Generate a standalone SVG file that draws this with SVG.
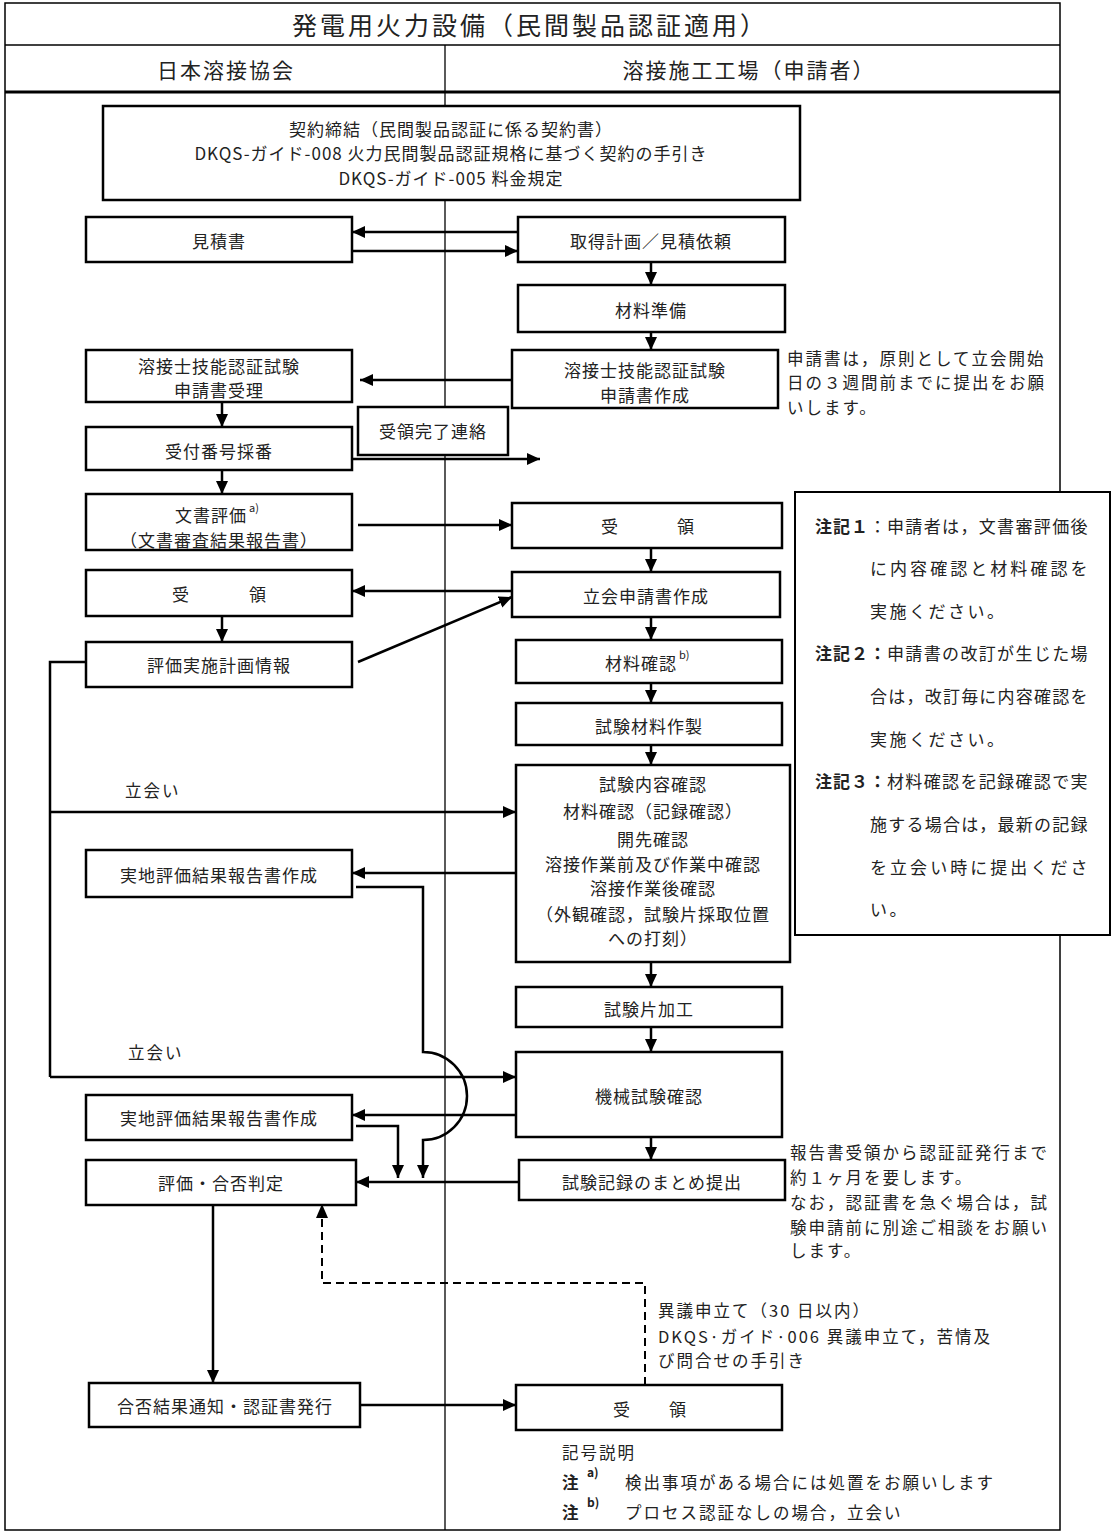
<svg xmlns="http://www.w3.org/2000/svg" width="1114" height="1536" viewBox="0 0 1114 1536">
<defs>
<marker id="ah" markerUnits="userSpaceOnUse" markerWidth="13" markerHeight="12" refX="13" refY="6" orient="auto">
<path d="M0,0 L13,6 L0,12 z" fill="#000"/>
</marker>
<style>
text{font-family:"Noto Sans CJK JP","Noto Sans",sans-serif;fill:#222;}
.bt{font-size:17px;letter-spacing:1px;text-anchor:middle;dominant-baseline:central;}
.nt{font-size:16.5px;letter-spacing:2px;dominant-baseline:central;}
.ns{font-size:17px;letter-spacing:2.5px;dominant-baseline:central;}
.sup{font-size:11px;}
.box{fill:#fff;stroke:#000;stroke-width:2.5;}
.frame{fill:none;stroke:#000;stroke-width:1.5;}
.c{fill:none;stroke:#000;stroke-width:2.5;}
.ca{fill:none;stroke:#000;stroke-width:2.5;marker-end:url(#ah);}
.dash{fill:none;stroke:#000;stroke-width:2;stroke-dasharray:8 5;}
</style>
</defs>
<rect width="1114" height="1536" fill="#fff"/>
<g id="frame">
<rect class="frame" x="5" y="3" width="1055" height="1527"/>
<line class="frame" x1="5" y1="45" x2="1060" y2="45"/>
<line x1="5" y1="92" x2="1060" y2="92" stroke="#000" stroke-width="3"/>
<line x1="445" y1="45" x2="445" y2="1530" stroke="#000" stroke-width="1.3"/>
<text x="530" y="24" font-size="25" text-anchor="middle" dominant-baseline="central" letter-spacing="3">発電用火力設備（民間製品認証適用）</text>
<text x="226" y="69" font-size="21" text-anchor="middle" dominant-baseline="central" letter-spacing="2">日本溶接協会</text>
<text x="749" y="69" font-size="21" text-anchor="middle" dominant-baseline="central" letter-spacing="2">溶接施工工場（申請者）</text>
</g>
<g id="connectors">
<line class="ca" x1="518" y1="232" x2="352" y2="232"/>
<line class="ca" x1="352" y1="251" x2="518" y2="251"/>
<line class="ca" x1="651" y1="262" x2="651" y2="285"/>
<line class="ca" x1="651" y1="332" x2="651" y2="350"/>
<line class="ca" x1="512" y1="380" x2="360" y2="380"/>
<line class="ca" x1="222" y1="402" x2="222" y2="427"/>
<line class="ca" x1="350" y1="459" x2="540" y2="459"/>
<line class="ca" x1="222" y1="470" x2="222" y2="494"/>
<line class="ca" x1="358" y1="525" x2="512" y2="525"/>
<line class="ca" x1="651" y1="548" x2="651" y2="572"/>
<line class="ca" x1="512" y1="591" x2="352" y2="591"/>
<line class="ca" x1="222" y1="616" x2="222" y2="642"/>
<line class="ca" x1="358" y1="662" x2="512" y2="597"/>
<line class="ca" x1="651" y1="617" x2="651" y2="640"/>
<line class="ca" x1="651" y1="683" x2="651" y2="703"/>
<line class="ca" x1="651" y1="745" x2="651" y2="765"/>
<polyline class="c" points="86,662 50,662 50,1077"/>
<line class="ca" x1="50" y1="812" x2="516" y2="812"/>
<line class="ca" x1="50" y1="1077" x2="516" y2="1077"/>
<line class="ca" x1="516" y1="873" x2="352" y2="873"/>
<path class="ca" d="M356,887 L423,887 L423,1052 A44,44 0 0 1 423,1140 L423,1178"/>
<line class="ca" x1="651" y1="962" x2="651" y2="987"/>
<line class="ca" x1="651" y1="1027" x2="651" y2="1052"/>
<line class="ca" x1="516" y1="1115" x2="352" y2="1115"/>
<path class="ca" d="M356,1126 L398,1126 L398,1178"/>
<line class="ca" x1="651" y1="1137" x2="651" y2="1160"/>
<line class="ca" x1="519" y1="1182" x2="356" y2="1182"/>
<line class="ca" x1="213" y1="1205" x2="213" y2="1383"/>
<line class="ca" x1="360" y1="1405" x2="516" y2="1405"/>
<polyline class="dash" points="645,1385 645,1283 322,1283 322,1218"/>
<path d="M316,1218 L322,1204 L328,1218 z" fill="#000"/>
</g>
<g id="contract"><rect class="box" x="103" y="106" width="697" height="94"/>
<text class="bt" x="451" y="128">契約締結（民間製品認証に係る契約書）</text>
<text class="bt" x="451" y="152" letter-spacing="0.9">DKQS-ガイド-008 火力民間製品認証規格に基づく契約の手引き</text>
<text class="bt" x="451" y="177" letter-spacing="0.9">DKQS-ガイド-005 料金規定</text></g>
<g id="n_mitsumorisho"><rect class="box" x="86" y="217" width="266" height="45"/><text class="bt" x="219" y="240">見積書</text></g>
<g id="n_shutoku"><rect class="box" x="518" y="217" width="267" height="45"/><text class="bt" x="651" y="240">取得計画／見積依頼</text></g>
<g id="n_zairyo"><rect class="box" x="518" y="285" width="267" height="47"/><text class="bt" x="651" y="309">材料準備</text></g>
<g id="n_shinsei_sakusei"><rect class="box" x="512" y="350" width="266" height="58"/><text class="bt" x="645" y="369">溶接士技能認証試験</text><text class="bt" x="645" y="394">申請書作成</text></g>
<g id="n_shinsei_juri"><rect class="box" x="86" y="350" width="266" height="52"/><text class="bt" x="219" y="365">溶接士技能認証試験</text><text class="bt" x="219" y="389">申請書受理</text></g>
<g id="n_juryo_kanryo"><rect class="box" x="358" y="407" width="150" height="48"/><text class="bt" x="433" y="430">受領完了連絡</text></g>
<g id="n_uketsuke"><rect class="box" x="86" y="427" width="266" height="43"/><text class="bt" x="219" y="450">受付番号採番</text></g>
<g id="n_bunsho"><rect class="box" x="86" y="494" width="266" height="56"/><text class="bt" x="211" y="514">文書評価</text><text class="sup" x="249" y="512">a)</text><text class="bt" x="219" y="539">（文書審査結果報告書）</text></g>
<g id="n_juryo_r1"><rect class="box" x="512" y="503" width="270" height="45"/><text class="bt" x="610 686" y="525">受領</text></g>
<g id="n_juryo_l1"><rect class="box" x="86" y="570" width="266" height="46"/><text class="bt" x="181 258" y="593">受領</text></g>
<g id="n_tachiai_shinsei"><rect class="box" x="512" y="572" width="268" height="45"/><text class="bt" x="646" y="595">立会申請書作成</text></g>
<g id="n_keikaku"><rect class="box" x="86" y="642" width="266" height="45"/><text class="bt" x="219" y="664">評価実施計画情報</text></g>
<g id="n_zairyo_kakunin"><rect class="box" x="516" y="640" width="266" height="43"/><text class="bt" x="641" y="662">材料確認</text><text class="sup" x="679" y="659">b)</text></g>
<g id="n_shiken_zairyo"><rect class="box" x="516" y="703" width="266" height="42"/><text class="bt" x="649" y="725">試験材料作製</text></g>
<g id="n_shiken_naiyo"><rect class="box" x="516" y="765" width="274" height="197"/>
<text class="bt" x="653" y="783">試験内容確認</text>
<text class="bt" x="653" y="810">材料確認（記録確認）</text>
<text class="bt" x="653" y="838">開先確認</text>
<text class="bt" x="653" y="863">溶接作業前及び作業中確認</text>
<text class="bt" x="653" y="887">溶接作業後確認</text>
<text class="bt" x="653" y="913">（外観確認，試験片採取位置</text>
<text class="bt" x="653" y="937">への打刻）</text></g>
<g id="n_jicchi1"><rect class="box" x="86" y="850" width="266" height="47"/><text class="bt" x="219" y="874">実地評価結果報告書作成</text></g>
<g id="n_shikenhen"><rect class="box" x="516" y="987" width="266" height="40"/><text class="bt" x="649" y="1008">試験片加工</text></g>
<g id="n_kikai"><rect class="box" x="516" y="1052" width="266" height="85"/><text class="bt" x="649" y="1095">機械試験確認</text></g>
<g id="n_jicchi2"><rect class="box" x="86" y="1095" width="266" height="45"/><text class="bt" x="219" y="1117">実地評価結果報告書作成</text></g>
<g id="n_hantei"><rect class="box" x="86" y="1160" width="270" height="45"/><text class="bt" x="221" y="1182">評価・合否判定</text></g>
<g id="n_kiroku"><rect class="box" x="519" y="1160" width="266" height="40"/><text class="bt" x="652" y="1181">試験記録のまとめ提出</text></g>
<g id="n_tsuchi"><rect class="box" x="89" y="1383" width="271" height="44"/><text class="bt" x="225" y="1405">合否結果通知・認証書発行</text></g>
<g id="n_juryo_b"><rect class="box" x="516" y="1385" width="266" height="45"/><text class="bt" x="622 678" y="1408">受領</text></g>
<g id="labels">
<text class="nt" x="125" y="790" letter-spacing="1">立会い</text>
<text class="nt" x="128" y="1052" letter-spacing="1">立会い</text>
<text class="nt" x="787" y="358">申請書は，原則として立会開始</text>
<text class="nt" x="787" y="382">日の３週間前までに提出をお願</text>
<text class="nt" x="787" y="407">いします。</text>
<text class="nt" x="790" y="1152">報告書受領から認証証発行まで</text>
<text class="nt" x="790" y="1177">約１ヶ月を要します。</text>
<text class="nt" x="790" y="1202">なお，認証書を急ぐ場合は，試</text>
<text class="nt" x="790" y="1227">験申請前に別途ご相談をお願い</text>
<text class="nt" x="790" y="1250">します。</text>
<text class="nt" x="658" y="1310" letter-spacing="1">異議申立て（30 日以内）</text>
<text class="nt" x="658" y="1336" letter-spacing="1">DKQS·ガイド·006 異議申立て，苦情及</text>
<text class="nt" x="658" y="1360" letter-spacing="1">び問合せの手引き</text>
<text class="nt" x="562" y="1452">記号説明</text>
<text class="nt" x="562" y="1482" font-weight="bold">注</text><text x="587" y="1477" font-size="12" font-weight="bold">a)</text>
<text class="nt" x="625" y="1482">検出事項がある場合には処置をお願いします</text>
<text class="nt" x="562" y="1512" font-weight="bold">注</text><text x="587" y="1507" font-size="12" font-weight="bold">b)</text>
<text class="nt" x="625" y="1512">プロセス認証なしの場合，立会い</text>
</g>
<g id="notes">
<rect x="795" y="492" width="315" height="443" fill="#fff" stroke="#000" stroke-width="2"/>
<text class="ns" x="815" y="525"><tspan font-weight="bold" letter-spacing="1">注記１</tspan>：</text>
<text class="ns" x="887" y="525" textLength="203" lengthAdjust="spacing">申請者は，文書審評価後</text>
<text class="ns" x="870" y="567" textLength="220" lengthAdjust="spacing">に内容確認と材料確認を</text>
<text class="ns" x="870" y="610">実施ください。</text>
<text class="ns" x="815" y="652"><tspan font-weight="bold" letter-spacing="1">注記２：</tspan></text>
<text class="ns" x="887" y="652" textLength="203" lengthAdjust="spacing">申請書の改訂が生じた場</text>
<text class="ns" x="870" y="695" textLength="220" lengthAdjust="spacing">合は，改訂毎に内容確認を</text>
<text class="ns" x="870" y="738">実施ください。</text>
<text class="ns" x="815" y="780"><tspan font-weight="bold" letter-spacing="1">注記３：</tspan></text>
<text class="ns" x="887" y="780" textLength="203" lengthAdjust="spacing">材料確認を記録確認で実</text>
<text class="ns" x="870" y="823" textLength="220" lengthAdjust="spacing">施する場合は，最新の記録</text>
<text class="ns" x="870" y="866" textLength="220" lengthAdjust="spacing">を立会い時に提出くださ</text>
<text class="ns" x="870" y="908">い。</text>
</g>
</svg>
